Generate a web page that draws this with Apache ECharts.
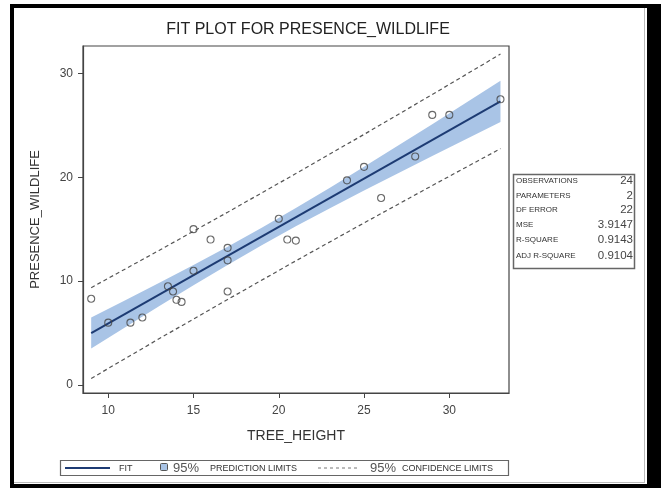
<!DOCTYPE html>
<html>
<head>
<meta charset="utf-8">
<script src="https://cdn.jsdelivr.net/npm/echarts@6/dist/echarts.min.js"></script>
<style>
html,body{margin:0;padding:0;background:#ffffff;}
#chart{width:661px;height:488px;}
</style>
</head>
<body>
<div id="chart"></div>
<script>
// ---- data ----
const treeHeight = [9, 10, 11.3, 12, 13.5, 13.8, 14, 14.3, 15, 15, 16, 17, 17, 17, 20, 20.5, 21, 24, 25, 26, 28, 29, 30, 33];
const presenceWildlife = [8.3, 6, 6, 6.5, 9.5, 9, 8.2, 8, 15, 11, 14, 13.2, 12, 9, 16, 14, 13.9, 19.7, 21, 18, 22, 26, 26, 27.5];
const fitX = [9, 33];
const fitY = [5.0, 27.3];
const bandX = [9, 11, 13, 15, 17, 19, 21, 23, 25, 27, 29, 31, 33];
const bandLower = [3.51, 5.57, 7.61, 9.60, 11.56, 13.45, 15.27, 17.01, 18.72, 20.39, 22.05, 23.69, 25.32];
const bandUpper = [6.49, 8.15, 9.83, 11.54, 13.30, 15.13, 17.03, 18.99, 21.00, 23.05, 25.11, 27.19, 29.28];
const limitX = [9, 13, 17, 21, 25, 29, 33];
const limitUpper = [9.37, 12.97, 16.63, 20.35, 24.12, 27.96, 31.85];
const limitLower = [0.63, 4.47, 8.23, 11.95, 15.60, 19.20, 22.75];
const xTicks = [10, 15, 20, 25, 30];
const yTicks = [0, 10, 20, 30];
const statLabels = ['OBSERVATIONS', 'PARAMETERS', 'DF ERROR', 'MSE', 'R-SQUARE', 'ADJ R-SQUARE'];
const statValues = ['24', '2', '22', '3.9147', '0.9143', '0.9104'];
const titleText = 'FIT PLOT FOR PRESENCE_WILDLIFE';
const xName = 'TREE_HEIGHT';
const yName = 'PRESENCE_WILDLIFE';

const FONT = '"Liberation Sans", Arial, sans-serif';
const chart = echarts.init(document.getElementById('chart'), null, {renderer: 'canvas'});

const points = treeHeight.map((x, i) => [x, presenceWildlife[i]]);
const fitData = fitX.map((x, i) => [x, fitY[i]]);
const upperData = limitX.map((x, i) => [x, limitUpper[i]]);
const lowerData = limitX.map((x, i) => [x, limitLower[i]]);

const statY = [181, 195.5, 210, 224.5, 240, 256];
const statGraphics = [];
statLabels.forEach((s, i) => {
  statGraphics.push({type: 'text', x: 516, y: statY[i], style: {text: s, font: '8px ' + FONT, fill: '#333', textVerticalAlign: 'middle', textAlign: 'left'}});
  statGraphics.push({type: 'text', x: 633, y: statY[i], style: {text: statValues[i], font: '11.5px ' + FONT, fill: '#444', textVerticalAlign: 'middle', textAlign: 'right'}});
});

const option = {
  backgroundColor: '#ffffff',
  animation: false,
  title: {
    text: titleText,
    left: 303, top: 17, textAlign: 'center',
    textStyle: {fontFamily: FONT, fontSize: 16, fontWeight: 'normal', color: '#222'}
  },
  grid: {left: 83, top: 46, width: 426, height: 347, show: true, borderColor: '#444', borderWidth: 1.2, backgroundColor: 'transparent'},
  xAxis: {
    type: 'value', min: 8.52, max: 33.5,
    name: xName, nameLocation: 'middle', nameGap: 36,
    nameTextStyle: {fontFamily: FONT, fontSize: 14, color: '#333'},
    axisLine: {show: true, onZero: false, lineStyle: {color: '#444', width: 1.2}},
    axisTick: {show: true, length: 5, customValues: xTicks, lineStyle: {color: '#444'}},
    axisLabel: {customValues: xTicks, margin: 12, fontFamily: FONT, fontSize: 12, color: '#444'},
    splitLine: {show: false}
  },
  yAxis: {
    type: 'value', min: -0.77, max: 32.63,
    name: yName, nameLocation: 'middle', nameGap: 41, nameRotate: 90,
    nameTextStyle: {fontFamily: FONT, fontSize: 13, color: '#333'},
    axisLine: {show: true, onZero: false, lineStyle: {color: '#444', width: 1.2}},
    axisTick: {show: true, length: 5, customValues: yTicks, lineStyle: {color: '#444'}},
    axisLabel: {customValues: yTicks, margin: 10, fontFamily: FONT, fontSize: 12, color: '#444'},
    splitLine: {show: false}
  },
  series: [
    {
      type: 'custom', name: 'band', z: 1, silent: true,
      data: [[bandX[0], bandLower[0]]],
      renderItem: function (params, api) {
        const pts = [];
        for (let i = 0; i < bandX.length; i++) pts.push(api.coord([bandX[i], bandUpper[i]]));
        for (let i = bandX.length - 1; i >= 0; i--) pts.push(api.coord([bandX[i], bandLower[i]]));
        return {type: 'polygon', shape: {points: pts}, style: {fill: '#a9c4e6', stroke: null}};
      }
    },
    {type: 'line', name: 'FIT', data: fitData, z: 3, symbol: 'none', lineStyle: {color: '#1d3b73', width: 2}},
    {type: 'line', name: 'upper', data: upperData, z: 2, symbol: 'none', lineStyle: {color: '#555', width: 1.2, type: [4, 3]}},
    {type: 'line', name: 'lower', data: lowerData, z: 2, symbol: 'none', lineStyle: {color: '#555', width: 1.2, type: [4, 3]}},
    {type: 'scatter', name: 'obs', data: points, z: 4, symbol: 'circle', symbolSize: 7,
      itemStyle: {color: 'rgba(255,255,255,0)', borderColor: '#444', borderWidth: 1.1}}
  ],
  graphic: [
    // outer frame
    {type: 'rect', shape: {x: 10, y: 4, width: 4, height: 484}, style: {fill: '#000'}},
    {type: 'rect', shape: {x: 10, y: 4, width: 651, height: 4}, style: {fill: '#000'}},
    {type: 'rect', shape: {x: 647, y: 4, width: 14, height: 484}, style: {fill: '#000'}},
    {type: 'rect', shape: {x: 10, y: 484, width: 651, height: 4}, style: {fill: '#000'}},
    {type: 'line', shape: {x1: 644.5, y1: 8, x2: 644.5, y2: 483}, style: {stroke: '#bbb', lineWidth: 1}},
    {type: 'line', shape: {x1: 14, y1: 482.5, x2: 645, y2: 482.5}, style: {stroke: '#bbb', lineWidth: 1}},
    // stats table
    {type: 'group', children: [
      {type: 'rect', shape: {x: 513.5, y: 174.5, width: 121, height: 94}, style: {fill: '#fff', stroke: '#666', lineWidth: 1.5}}
    ].concat(statGraphics)},
    // legend
    {type: 'group', children: [
      {type: 'rect', shape: {x: 60.5, y: 460.5, width: 448, height: 15}, style: {fill: '#fff', stroke: '#666', lineWidth: 1.2}},
      {type: 'line', shape: {x1: 65, y1: 468, x2: 110, y2: 468}, style: {stroke: '#1d3b73', lineWidth: 2}},
      {type: 'text', x: 119, y: 468.5, style: {text: 'FIT', font: '9px ' + FONT, fill: '#333', textVerticalAlign: 'middle'}},
      {type: 'rect', shape: {x: 160.5, y: 463.5, width: 7, height: 7, r: 1}, style: {fill: '#a9c4e6', stroke: '#555', lineWidth: 1}},
      {type: 'text', x: 173, y: 468, style: {text: '95%', font: '13px ' + FONT, fill: '#555', textVerticalAlign: 'middle'}},
      {type: 'text', x: 210, y: 468.5, style: {text: 'PREDICTION LIMITS', font: '9px ' + FONT, fill: '#333', textVerticalAlign: 'middle'}},
      {type: 'line', shape: {x1: 318, y1: 468, x2: 360, y2: 468}, style: {stroke: '#777', lineWidth: 1, lineDash: [3, 3]}},
      {type: 'text', x: 370, y: 468, style: {text: '95%', font: '13px ' + FONT, fill: '#555', textVerticalAlign: 'middle'}},
      {type: 'text', x: 402, y: 468.5, style: {text: 'CONFIDENCE LIMITS', font: '9px ' + FONT, fill: '#333', textVerticalAlign: 'middle'}}
    ]}
  ]
};
chart.setOption(option);
</script>
</body>
</html>
